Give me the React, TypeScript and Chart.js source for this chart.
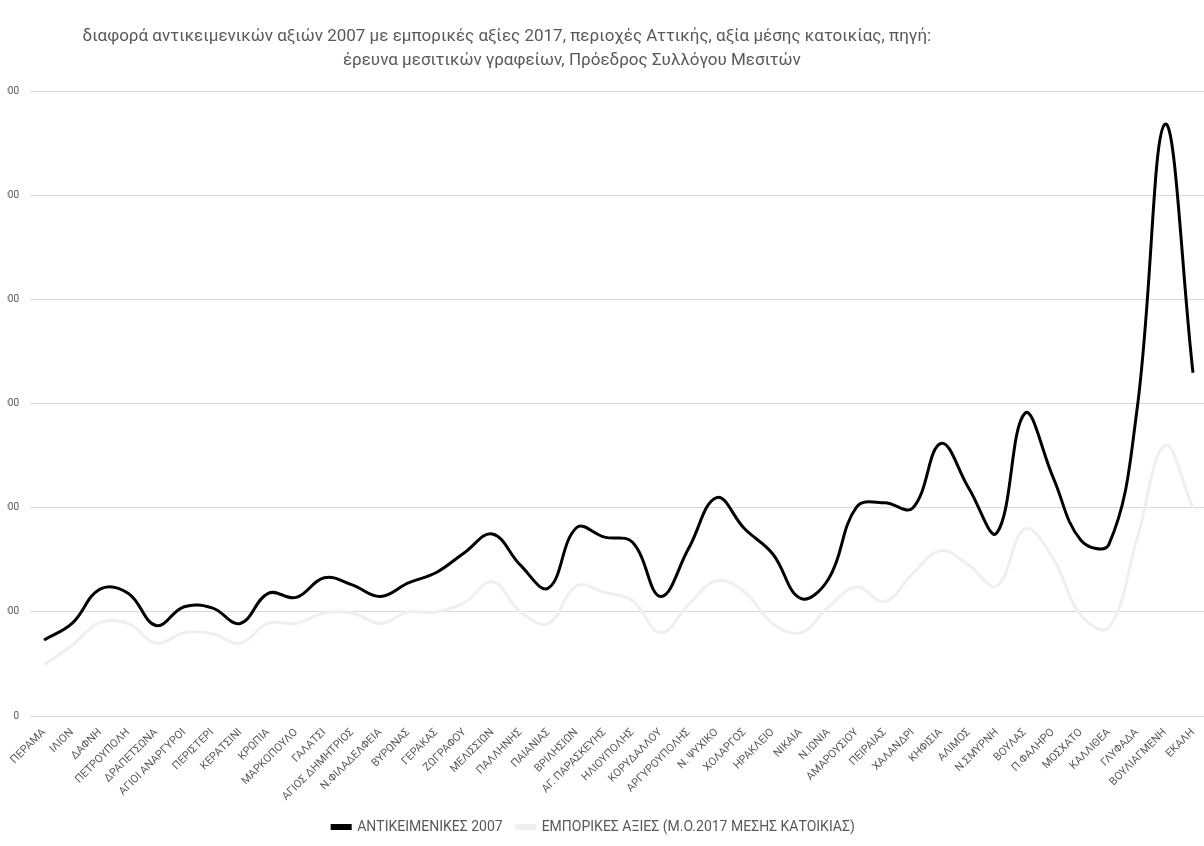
import React, { useEffect, useRef } from "react";
import { Chart, registerables } from "chart.js";

Chart.register(...registerables);

const categories = [
  "ΠΕΡΑΜΑ", "ΙΛΙΟΝ", "ΔΑΦΝΗ", "ΠΕΤΡΟΥΠΟΛΗ", "ΔΡΑΠΕΤΣΩΝΑ", "ΑΓΙΟΙ ΑΝΑΡΓΥΡΟΙ",
  "ΠΕΡΙΣΤΕΡΙ", "ΚΕΡΑΤΣΙΝΙ", "ΚΡΩΠΙΑ", "ΜΑΡΚΟΠΟΥΛΟ", "ΓΑΛΑΤΣΙ", "ΑΓΙΟΣ ΔΗΜΗΤΡΙΟΣ",
  "Ν.ΦΙΛΑΔΕΛΦΕΙΑ", "ΒΥΡΩΝΑΣ", "ΓΕΡΑΚΑΣ", "ΖΩΓΡΑΦΟΥ", "ΜΕΛΙΣΣΙΩΝ", "ΠΑΛΛΗΝΗΣ",
  "ΠΑΙΑΝΙΑΣ", "ΒΡΙΛΗΣΙΩΝ", "ΑΓ. ΠΑΡΑΣΚΕΥΗΣ", "ΗΛΙΟΥΠΟΛΗΣ", "ΚΟΡΥΔΑΛΛΟΥ",
  "ΑΡΓΥΡΟΥΠΟΛΗΣ", "Ν. ΨΥΧΙΚΟ", "ΧΟΛΑΡΓΟΣ", "ΗΡΑΚΛΕΙΟ", "ΝΙΚΑΙΑ", "Ν.ΙΩΝΙΑ",
  "ΑΜΑΡΟΥΣΙΟΥ", "ΠΕΙΡΑΙΑΣ", "ΧΑΛΑΝΔΡΙ", "ΚΗΦΙΣΙΑ", "ΑΛΙΜΟΣ", "Ν.ΣΜΥΡΝΗ",
  "ΒΟΥΛΑΣ", "Π.ΦΑΛΗΡΟ", "ΜΟΣΧΑΤΟ", "ΚΑΛΛΙΘΕΑ", "ΓΛΥΦΑΔΑ", "ΒΟΥΛΙΑΓΜΕΝΗ", "ΕΚΑΛΗ",
];

const objective2007 = [
  730, 890, 1220, 1180, 870, 1050, 1040, 890, 1180, 1140, 1330, 1260,
  1150, 1280, 1380, 1570, 1750, 1450, 1230, 1810, 1720, 1670, 1150,
  1610, 2100, 1800, 1560, 1130, 1320, 2010, 2050, 2000, 2620, 2190, 1760,
  2910, 2300, 1690, 1650, 2940, 5690, 3300,
];

const market2017 = [
  490, 680, 900, 890, 700, 800, 790, 700, 890, 890, 990, 990,
  890, 1000, 1000, 1090, 1290, 1000, 890, 1250, 1190, 1110, 800,
  1070, 1300, 1190, 890, 800, 1050, 1240, 1100, 1370, 1590, 1450, 1250,
  1800, 1520, 970, 850, 1700, 2600, 2000,
];

const yTicks = [0, 1000, 2000, 3000, 4000, 5000, 6000];

const seriesNames = [
  "ΑΝΤΙΚΕΙΜΕΝΙΚΕΣ 2007",
  "ΕΜΠΟΡΙΚΕΣ ΑΞΙΕΣ (Μ.Ο.2017 ΜΕΣΗΣ ΚΑΤΟΙΚΙΑΣ)",
];

const titleLines = [
  "διαφορά αντικειμενικών αξιών 2007 με εμπορικές αξίες 2017, περιοχές Αττικής, αξία μέσης κατοικίας, πηγή:",
  "έρευνα μεσιτικών γραφείων, Πρόεδρος Συλλόγου Μεσιτών",
];

const FONT = "Roboto, 'Noto Sans', sans-serif";
const TEXT = "#595959";

export default function App() {
  const ref = useRef<HTMLCanvasElement>(null);

  useEffect(() => {
    if (!ref.current) return;
    const pad = "\u2002";
    const chart = new Chart(ref.current, {
      type: "line",
      data: {
        labels: categories,
        datasets: [
          {
            label: seriesNames[0],
            data: objective2007,
            borderColor: "#000000",
            backgroundColor: "#000000",
            borderWidth: 3,
            pointRadius: 0,
            tension: 0.4,
            fill: false,
          },
          {
            label: seriesNames[1],
            data: market2017,
            borderColor: "#efefef",
            backgroundColor: "#efefef",
            borderWidth: 3,
            pointRadius: 0,
            tension: 0.4,
            fill: false,
          },
        ],
      },
      options: {
        responsive: false,
        animation: false,
        layout: { padding: { left: 0, right: 7, top: 0, bottom: 2 } },
        plugins: {
          tooltip: { enabled: false },
          title: {
            display: true,
            text: [titleLines[0] + pad.repeat(20), titleLines[1] + pad.repeat(5)],
            color: TEXT,
            font: { family: FONT, size: 17, weight: "normal", lineHeight: 1.41 },
            padding: { top: 25, bottom: 19 },
          },
          legend: {
            position: "bottom",
            labels: {
              color: TEXT,
              font: { family: FONT, size: 14 },
              boxWidth: 18,
              boxHeight: 3,
              padding: 14,
            },
          },
        },
        scales: {
          x: {
            offset: true,
            grid: { display: false },
            border: { display: false },
            ticks: {
              autoSkip: false,
              minRotation: 45,
              maxRotation: 45,
              color: TEXT,
              font: { family: FONT, size: 11 },
              padding: 2,
            },
            afterFit: (s: any) => {
              s.height = 90;
            },
          },
          y: {
            min: yTicks[0],
            max: yTicks[yTicks.length - 1],
            afterBuildTicks: (s: any) => {
              s.ticks = yTicks.map((v) => ({ value: v }));
            },
            grid: { color: "#d9d9d9", drawTicks: false },
            border: { display: false },
            ticks: {
              color: TEXT,
              font: { family: FONT, size: 10 },
              padding: 11,
              callback: (v: any) => String(v),
            },
            afterFit: (s: any) => {
              s.width = 50;
            },
          },
        },
      },
    });
    return () => chart.destroy();
  }, []);

  return (
    <div
      style={{
        position: "fixed",
        left: 7,
        top: 0,
        width: 1197,
        height: 846,
        overflow: "hidden",
        background: "#ffffff",
      }}
    >
      <canvas
        ref={ref}
        width={1234}
        height={846}
        style={{ position: "absolute", left: -27, top: 0, width: 1234, height: 846 }}
      />
    </div>
  );
}
